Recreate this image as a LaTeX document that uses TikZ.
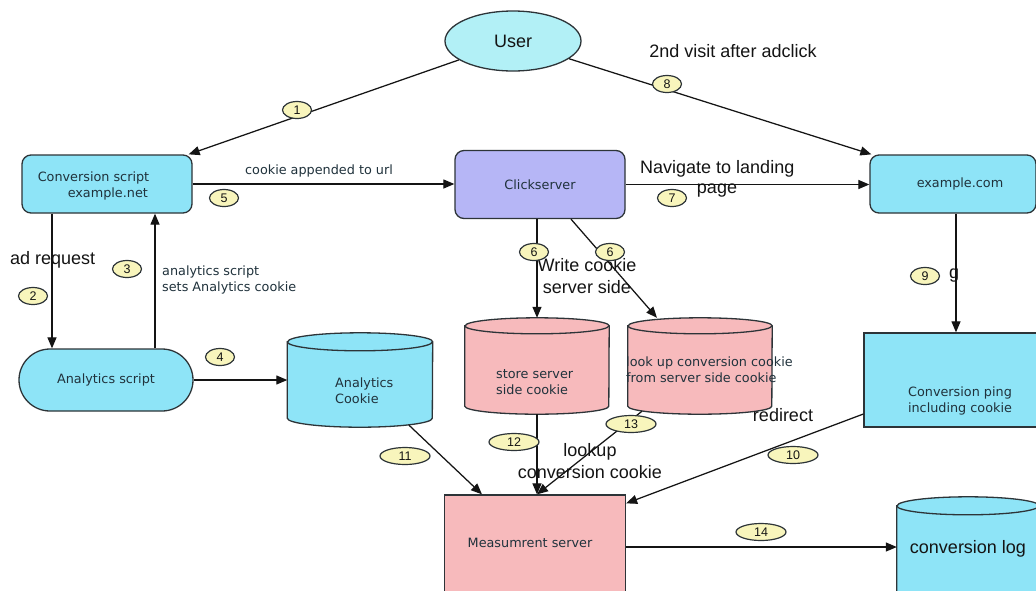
\documentclass[tikz,border=0pt]{standalone}
\usepackage{fontspec}
\setmainfont{Liberation Sans}
\newfontfamily\boxfont{DejaVu Sans}
\usetikzlibrary{shapes.geometric,arrows.meta}

\definecolor{cyanfill}{RGB}{142,228,247}
\definecolor{userfill}{RGB}{178,240,246}
\definecolor{lavfill}{RGB}{182,182,246}
\definecolor{pinkfill}{RGB}{247,186,188}
\definecolor{tagfill}{RGB}{248,245,188}
\definecolor{edge}{RGB}{45,52,56}
\definecolor{boxink}{RGB}{32,50,60}
\definecolor{ink}{RGB}{20,20,20}

% cylinder body drawn around a shape-only node:
% #1 node, #2 fill colour, #3 half width, #4 radius of the end ellipses
\newcommand\drum[4]{%
  \path[outline, fill=#2] ([yshift=-#4]#1.north west) -- ([yshift=#4]#1.south west)
    arc[start angle=180, end angle=360, x radius=#3, y radius=#4]
    -- ([yshift=-#4]#1.north east)
    arc[start angle=0, end angle=180, x radius=#3, y radius=#4] -- cycle;
  \draw[outline] ([yshift=-#4]#1.north west)
    arc[start angle=180, end angle=360, x radius=#3, y radius=#4];
}

\begin{document}
\begin{tikzpicture}[x=1pt, y=-1pt,
  outline/.style={draw=edge, line width=1.3pt},
  rbox/.style={outline, rounded corners=9pt, inner sep=0pt},
  sqbox/.style={outline, inner sep=0pt},
  drumbox/.style={draw=none, inner sep=0pt},
  boxtxt/.style={font=\boxfont\fontsize{12.8}{16}\selectfont, text=boxink, inner sep=0pt},
  bigtxt/.style={font=\fontsize{18}{22}\selectfont, text=ink, inner sep=0pt},
  tag/.style={ellipse, draw=edge, fill=tagfill, line width=1.2pt, inner sep=0pt,
              minimum width=29pt, minimum height=17pt, font=\fontsize{12.5}{12.5}\selectfont, text=ink},
  tagw/.style={tag, minimum width=50pt},
  arr/.style={draw=ink, line width=1.25pt, -{Triangle[length=11pt,width=9pt]}}
]
\path[use as bounding box, fill=white] (0,0) rectangle (1036,590);

% ---------- boxes ----------
\node[ellipse, outline, fill=userfill, minimum width=136pt, minimum height=60pt,
      font=\fontsize{18}{22}\selectfont, text=ink] (user) at (513,41) {User};

\node[rbox, fill=cyanfill, minimum width=170pt, minimum height=58pt] (conv) at (107,184) {};
\node[boxtxt, align=left] (conv-t) at (93.5,186) {Conversion script\\\hspace*{30pt}example.net};

\node[rbox, fill=lavfill, minimum width=170pt, minimum height=68pt, boxtxt] (click) at (540,184.5) {Clickserver};

\node[rbox, fill=cyanfill, minimum width=166pt, minimum height=58pt] (excom) at (953,184) {};
\node[boxtxt] (excom-t) at (960,184) {example.com};

\node[rbox, rounded corners=31pt, fill=cyanfill, minimum width=174pt, minimum height=62pt, boxtxt]
  (ascript) at (106,380) {Analytics script};

\node[drumbox, minimum width=145pt, minimum height=94pt] (acookie) at (360,380) {};
\node[drumbox, minimum width=144pt, minimum height=96pt] (store) at (537,366) {};
\node[drumbox, minimum width=144pt, minimum height=96pt] (lookup) at (700,366) {};
\node[drumbox, minimum width=142pt, minimum height=104pt] (clog) at (968,549) {};
\drum{acookie}{cyanfill}{72.5pt}{9pt}
\drum{store}{pinkfill}{72pt}{8pt}
\drum{lookup}{pinkfill}{72pt}{8pt}
\drum{clog}{cyanfill}{71pt}{9pt}

\node[boxtxt, align=left, anchor=west] (acookie-t) at (335,391) {Analytics\\Cookie};
\node[boxtxt, align=left, anchor=west] (store-t) at (496,382) {store server\\side cookie};
\node[boxtxt, align=left, anchor=west] (lookup-t) at (626,370) {look up conversion cookie\\from server side cookie};
\node[bigtxt] (clog-t) at (968,549) {conversion log};

\node[sqbox, fill=cyanfill, minimum width=182pt, minimum height=94pt] (ping) at (955,380) {};
\node[boxtxt, align=center] (ping-t) at (960,401) {Conversion ping\\including cookie};

\node[sqbox, fill=pinkfill, minimum width=181pt, minimum height=100pt] (meas) at (535,545) {};
\node[boxtxt] (meas-t) at (530,543) {Measumrent server};

% ---------- connectors ----------
\draw[arr] (user) -- ([xshift=-4pt]conv.north east);
\draw[arr] (user) -- ([xshift=2pt]excom.north west);
\draw[arr] (conv.east) -- (conv.east -| click.west);
\draw[arr] (click.east) -- (click.east -| excom.west);
\draw[arr] ([xshift=-55pt]conv.south) -- ([xshift=-55pt]conv.south |- ascript.north);
\draw[arr] ([xshift=49pt]ascript.north) -- ([xshift=49pt]ascript.north |- conv.south);
\draw[arr] (ascript.east) -- (ascript.east -| acookie.west);
\draw[arr] (store.north |- click.south) -- (store.north);
\draw[arr] ([xshift=31pt]click.south) -- ([xshift=-43pt]lookup.north);
\draw[arr] ([xshift=3pt]excom.south) -- ([xshift=3pt]excom.south |- ping.north);
\draw[arr] ([xshift=49pt,yshift=2pt]acookie.south) -- ([xshift=-53pt]meas.north);
\draw[arr] (store.south) -- (store.south |- meas.north);
\draw[arr] ([xshift=-58pt,yshift=3pt]lookup.south) -- ([xshift=2pt]meas.north);
\draw[arr] ([yshift=-34pt]ping.west) -- ([yshift=-9pt]meas.north east);
\draw[arr] ([yshift=-2pt]meas.east) -- ([yshift=-2pt]meas.east -| clog.west);

% ---------- connector texts ----------
\node[boxtxt] (t-cookie) at (319,171) {cookie appended to url};
\node[bigtxt, anchor=west] (t-nav) at (640,169) {Navigate to landing};
\node[bigtxt] (t-page) at (717,191) {page};
\node[bigtxt] (t-visit) at (733,51) {2nd visit after adclick};
\node[bigtxt, anchor=west] (t-ad) at (10,260) {ad request};
\node[boxtxt, align=left, anchor=west] (t-ana) at (162,280) {analytics script\\sets Analytics cookie};
\node[bigtxt, align=center] (t-write) at (587,276) {Write cookie\\server side};
\node[bigtxt, align=center] (t-lookup) at (590,461) {lookup\\conversion cookie};
\node[bigtxt] (t-redir) at (783,415) {redirect};
\node[bigtxt] (t-g) at (954,276) {g};

% ---------- step numbers ----------
\node[tag] (n1) at (297,110) {1};
\node[tag] (n2) at (33,296) {2};
\node[tag] (n3) at (127,269) {3};
\node[tag] (n4) at (220,357) {4};
\node[tag] (n5) at (224,198) {5};
\node[tag] (n6a) at (534,252) {6};
\node[tag] (n6b) at (610,252) {6};
\node[tag] (n7) at (672,198) {7};
\node[tag] (n8) at (667,84) {8};
\node[tag] (n9) at (925,276) {9};
\node[tagw] (n10) at (793,455) {10};
\node[tagw] (n11) at (405,456) {11};
\node[tagw] (n12) at (514,442) {12};
\node[tagw] (n13) at (631,424) {13};
\node[tagw] (n14) at (761,532) {14};
\end{tikzpicture}
\end{document}
